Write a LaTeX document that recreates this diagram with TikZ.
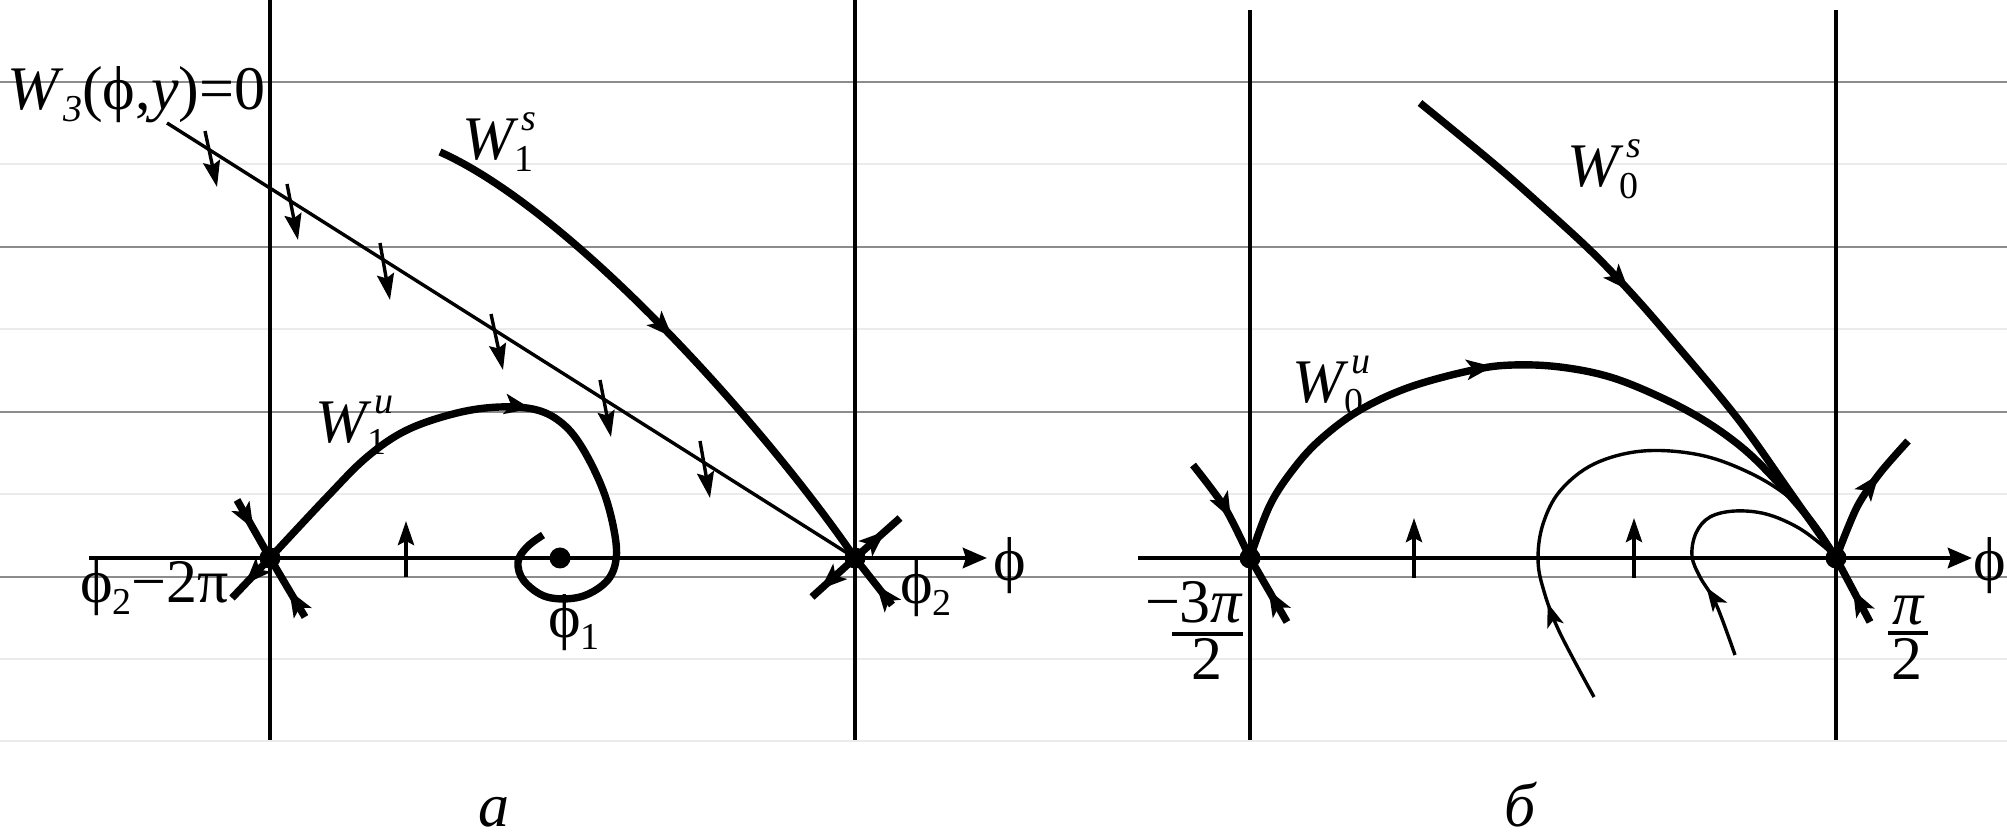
\documentclass[tikz,border=0pt]{standalone}
\usepackage{fontspec}
\setmainfont{Liberation Serif}
\usetikzlibrary{arrows.meta,decorations.markings}
\newcommand{\lbsz}{\fontsize{31}{36}\selectfont}
\newcommand{\smsz}{\fontsize{19}{22}\selectfont}
\newcommand{\WSS}[2]{\textit{W}\rlap{\kern1.5pt\raisebox{14.5pt}{\smsz\textit{#1}}}\kern-2pt\raisebox{-6pt}{\smsz #2}}
\newcommand{\lowsub}[1]{\raisebox{-6pt}{\smsz #1}}
\newcommand{\phg}{ϕ}
\tikzset{
  lbl/.style={inner sep=0pt, outer sep=0pt, font=\lbsz},
  vline/.style={line width=2.2pt},
  axisline/.style={line width=2.4pt, -{Stealth[length=12pt,width=10pt,inset=1.5pt]}},
  manifold/.style={line width=3.7pt},
  orbit/.style={line width=1.7pt},
  flowarrow/.style={line width=1.7pt, -{Stealth[length=13pt,width=8.5pt,inset=2pt]}},
  upflow/.style={line width=2pt, -{Stealth[length=12pt,width=8pt,inset=2pt]}},
  midarrow/.style={postaction={decorate}, decoration={markings, mark=at position #1 with {\arrow{Stealth[length=13pt,width=10pt,inset=3pt]}}}},
  thinmid/.style={postaction={decorate}, decoration={markings, mark=at position #1 with {\arrow{Stealth[length=12pt,width=8.5pt,inset=3pt]}}}},
  grayrule/.style={line width=0.8pt, draw=black!45},
  lightrule/.style={line width=0.8pt, draw=black!8},
  equil/.style={circle, fill=black, inner sep=0pt, minimum size=10.5pt},
  fracbar/.style={line width=2pt},
}
\begin{document}
\begin{tikzpicture}[x=0.5pt,y=-0.5pt]
\useasboundingbox (0,0) rectangle (2007,838);
\foreach \yy in {164,329,494,659,741} \draw[lightrule] (0,\yy) -- (2007,\yy);
\foreach \yy in {82,247,412,577} \draw[grayrule] (0,\yy) -- (2007,\yy);

\coordinate (s1) at (270,558);
\coordinate (s2) at (855,558);
\coordinate (f1) at (560,558);
\coordinate (t1) at (1250,558);
\coordinate (t2) at (1836,558);

% vertical lines
\draw[vline] (270,0) -- (270,740);
\draw[vline] (855,0) -- (855,740);
\draw[vline] (1250,10) -- (1250,740);
\draw[vline] (1836,10) -- (1836,740);

% axes
\draw[axisline] (89,558) -- (987,558);
\draw[axisline] (1138,558) -- (1972,558);

% ---------- panel a ----------
\draw[orbit] (167,123) -- (s2);
\foreach \xa/\ya/\xb/\yb in {205/131/217/187, 287/184/298/240, 380/243/390/300, 491/314/503/370, 600/380/611/437, 700/441/710/498}
  \draw[flowarrow] (\xa,\ya) -- (\xb,\yb);

\draw[manifold, midarrow=0.51] (440,152) .. controls (570,210) and (760,420) .. (s2);

\draw[manifold, midarrow=0.467] plot[smooth, tension=0.6] coordinates {(270,558) (327,497) (367,457) (407,430) (457,413) (500,407) (537,410) (563,424) (583,449) (603,490) (614,530) (616,560) (606,582) (580,597) (547,597) (524,581) (518,562) (527,547) (543,535)};

\draw[manifold, midarrow=0.5] (237,500) -- (s1);
\draw[manifold, midarrow=0.45] (305,617) -- (s1);
\draw[manifold, midarrow=0.65] (s1) -- (232,598);
\draw[manifold, midarrow=0.67] (s2) -- (900,518);
\draw[manifold, midarrow=0.8] (s2) -- (812,597);
\draw[manifold, midarrow=0.42] (892,605) -- (s2);

\draw[upflow] (406,577) -- (406,521);

\node[lbl, anchor=base west] (w3) at (7,110) {\textit{W}\raisebox{-6pt}{\smsz\textit{3}}(\phg,\textit{y})=0};
\node[lbl, anchor=base west] (w1s) at (462,160) {\WSS{s}{1}};
\node[lbl, anchor=base west] (w1u) at (315,443) {\WSS{u}{1}};
\node[lbl, anchor=base west] (phiax1) at (993,581) {\phg};
\node[lbl, anchor=base west] (phi2) at (900,604) {\phg\lowsub{2}};
\node[lbl, anchor=base west] (phi2m) at (80,603) {\phg\lowsub{2}−2π};
\node[lbl, anchor=base west] (phi1) at (548,638) {\phg\lowsub{1}};
\node[lbl, anchor=base west] (capa) at (478,826) {\textit{а}};

% ---------- panel b ----------
\draw[manifold, midarrow=0.453] plot[smooth, tension=0.6] coordinates {(1420,103) (1493,163) (1543,207) (1593,253) (1633,295) (1673,341) (1738,419) (1790,492) (1836,558)};

\draw[manifold, midarrow=0.443] plot[smooth, tension=0.6] coordinates {(1250,558) (1270,505) (1295,467) (1322,438) (1360,410) (1410,387) (1473,370) (1513,365) (1560,367) (1610,377) (1660,397) (1705,421) (1745,450) (1780,485) (1810,520) (1836,558)};

\draw[orbit, thinmid=0.19] plot[smooth, tension=0.6] coordinates {(1594,697) (1559,631) (1543,588) (1538,558) (1543,524) (1560,491) (1594,464) (1643,451) (1700,455) (1750,473) (1790,498) (1819,529) (1836,558)};

\draw[orbit, thinmid=0.25] plot[smooth, tension=0.6] coordinates {(1735,655) (1716,604) (1700,577) (1692,556) (1696,533) (1710,517) (1735,511) (1766,514) (1797,527) (1822,545) (1836,558)};

\draw[manifold, midarrow=0.6] plot[smooth] coordinates {(1193,465) (1225,508) (t1)};
\draw[manifold, midarrow=0.5] (1287,622) -- (t1);
\draw[manifold, midarrow=0.5] (1870,622) -- (t2);
\draw[manifold, midarrow=0.68] plot[smooth] coordinates {(t2) (1857,507) (1880,473) (1908,441)};

\draw[upflow] (1414,578) -- (1414,518);
\draw[upflow] (1634,578) -- (1634,518);

\node[lbl, anchor=base west] (w0s) at (1567,187) {\WSS{s}{0}};
\node[lbl, anchor=base west] (w0u) at (1292,403) {\WSS{u}{0}};
\node[lbl, anchor=base west] (phiax2) at (1973,581) {\phg};
\node[lbl, anchor=base west] (num1) at (1145,623) {−3\textit{π}};
\draw[fracbar] (1172,634) -- (1243,634);
\node[lbl, anchor=base] (den1) at (1207,680) {2};
\node[lbl, anchor=base] (num2) at (1909,625) {\textit{π}};
\draw[fracbar] (1888,633) -- (1928,633);
\node[lbl, anchor=base] (den2) at (1907,680) {2};
\node[lbl, anchor=base west] (capb) at (1504,826) {\textit{б}};

% equilibria
\node[equil] (S1) at (s1) {};
\node[equil] (S2) at (s2) {};
\node[equil] (F1) at (f1) {};
\node[equil] (T1) at (t1) {};
\node[equil] (T2) at (t2) {};
\end{tikzpicture}
\end{document}
